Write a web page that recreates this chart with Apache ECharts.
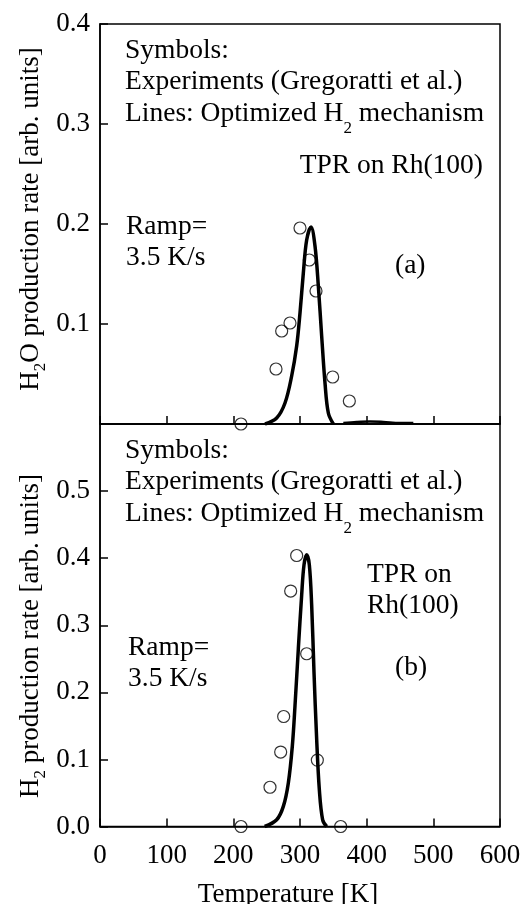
<!DOCTYPE html>
<html>
<head>
<meta charset="utf-8">
<script src="https://cdn.jsdelivr.net/npm/echarts@6/dist/echarts.min.js"></script>
<style>
html,body{margin:0;padding:0;background:#fff;}
#chart{width:524px;height:904px;}
</style>
</head>
<body>
<div id="chart"></div>
<script>
// ---- Data ----
const xTicks = [0, 100, 200, 300, 400, 500, 600];
// Panel (a): H2O production
const expTopT = [211.5, 264, 272.5, 285, 300, 314, 324, 349, 374];
const expTopY = [0.0, 0.055, 0.093, 0.101, 0.196, 0.164, 0.133, 0.047, 0.023];
const simTopT = [247.5, 265, 277.5, 287.5, 295, 300, 305, 310, 316.5, 322.5, 327.5, 332.5, 337.5, 342.5, 350];
const simTopY = [0.0, 0.006, 0.021, 0.048, 0.078, 0.111, 0.151, 0.184, 0.197, 0.178, 0.138, 0.088, 0.041, 0.011, 0.0];
const tailTopT = [365, 385, 405, 425, 450, 470];
const tailTopY = [0.001, 0.002, 0.0025, 0.002, 0.001, 0.001];
// Panel (b): H2 production
const expBotT = [211.5, 255, 271, 275.5, 286, 295, 310, 326, 361];
const expBotY = [0.0, 0.0585, 0.111, 0.164, 0.351, 0.404, 0.2575, 0.099, 0.0];
const simBotT = [247, 265, 275, 282.5, 288.5, 292.5, 297.5, 302.5, 306, 310, 314, 317.5, 321, 325, 329, 334, 340];
const simBotY = [0.0, 0.01, 0.03, 0.065, 0.12, 0.18, 0.265, 0.345, 0.39, 0.405, 0.39, 0.33, 0.23, 0.13, 0.055, 0.01, 0.0];

const zip = (a, b) => a.map((v, i) => [v, b[i]]);
const FONT = 'Liberation Serif';
const FS = 27;
const AFS = 27.5;

const chart = echarts.init(document.getElementById('chart'), null, {renderer: 'canvas'});

function xAxis(gridIndex, showLabels) {
  return {
    type: 'value', gridIndex, min: 0, max: 600, interval: 100, position: 'bottom',
    axisLine: {show: true, onZero: false, lineStyle: {color: '#000', width: 1.5}},
    axisTick: {show: true, inside: true, length: 8, interval: 0, lineStyle: {color: '#000', width: 1.5}},
    splitLine: {show: false},
    axisLabel: {show: showLabels, color: '#000', fontFamily: FONT, fontSize: FS, margin: 16}
  };
}
function yAxis(gridIndex, max, hideMin, hideAbove) {
  return {
    type: 'value', gridIndex, min: 0, max, interval: 0.1, position: 'left',
    axisLine: {show: true, onZero: false, lineStyle: {color: '#000', width: 1.5}},
    axisTick: {show: true, inside: true, length: 8, interval: 0, lineStyle: {color: '#000', width: 1.5}},
    splitLine: {show: false},
    axisLabel: {
      color: '#000', fontFamily: FONT, fontSize: FS, margin: 10,
      showMinLabel: !hideMin, showMaxLabel: !hideAbove,
      formatter: v => (hideMin && v === 0) || (hideAbove && v > 0.55) ? '' : v.toFixed(1)
    }
  };
}

function txt(x, y, text, opts) {
  opts = opts || {};
  const fs = opts.fs || AFS;
  return {
    type: 'text', x, y, z: 100, rotation: opts.rotation || 0,
    style: {
      text, fill: '#000', font: fs + 'px "' + FONT + '"',
      fontFamily: FONT, fontSize: fs, lineHeight: opts.lh || 31.5,
      align: opts.align || 'left', verticalAlign: opts.va || 'top',
      textAlign: opts.align || 'left', textVerticalAlign: opts.va || 'top',
      rich: {sub: {fontSize: 17, fontFamily: FONT, fill: '#000', verticalAlign: 'top', lineHeight: 10,
                   padding: [opts.subPad || 22, 0, 0, 0]}}
    }
  };
}

const option = {
  backgroundColor: '#fff',
  animation: false,
  grid: [
    {left: 100, top: 24, width: 400, height: 400, show: true, borderColor: '#000', borderWidth: 1.5, backgroundColor: 'transparent', z: 0},
    {left: 100, top: 424, width: 400, height: 402.5, show: true, borderColor: '#000', borderWidth: 1.5, backgroundColor: 'transparent', z: 0}
  ],
  xAxis: [xAxis(0, false), xAxis(1, true)],
  yAxis: [yAxis(0, 0.4, true, false), yAxis(1, 0.6, false, true)],
  series: [
    {type: 'line', xAxisIndex: 0, yAxisIndex: 0, data: zip(simTopT, simTopY), showSymbol: false, smooth: 0.35,
     lineStyle: {color: '#000', width: 3.5}, z: 3},
    {type: 'line', xAxisIndex: 0, yAxisIndex: 0, data: zip(tailTopT, tailTopY), showSymbol: false, smooth: 0.35,
     lineStyle: {color: '#000', width: 2.5}, z: 3},
    {type: 'scatter', xAxisIndex: 0, yAxisIndex: 0, data: zip(expTopT, expTopY), symbol: 'circle', symbolSize: 12,
     clip: false, itemStyle: {color: 'rgba(255,255,255,0)', borderColor: '#000', borderWidth: 1.2}, z: 4},
    {type: 'line', xAxisIndex: 1, yAxisIndex: 1, data: zip(simBotT, simBotY), showSymbol: false, smooth: 0.35,
     lineStyle: {color: '#000', width: 3.5}, z: 3},
    {type: 'scatter', xAxisIndex: 1, yAxisIndex: 1, data: zip(expBotT, expBotY), symbol: 'circle', symbolSize: 12,
     clip: false, itemStyle: {color: 'rgba(255,255,255,0)', borderColor: '#000', borderWidth: 1.2}, z: 4}
  ],
  graphic: [
    // axis names
    txt(31, 219, 'H{sub|2}O production rate [arb. units]', {fs: FS, align: 'center', va: 'middle', rotation: Math.PI / 2, lh: 30, subPad: 16}),
    txt(31, 636, 'H{sub|2} production rate [arb. units]', {fs: FS, align: 'center', va: 'middle', rotation: Math.PI / 2, lh: 30, subPad: 16}),
    txt(288, 895, 'Temperature [K]', {fs: FS, align: 'center', va: 'middle', lh: 30}),
    // panel (a)
    txt(125, 35, 'Symbols:\nExperiments (Gregoratti et al.)\nLines: Optimized H{sub|2} mechanism'),
    txt(483, 150, 'TPR on Rh(100)', {align: 'right'}),
    txt(126, 211, 'Ramp=\n3.5 K/s'),
    txt(395, 250, '(a)'),
    // panel (b)
    txt(125, 435, 'Symbols:\nExperiments (Gregoratti et al.)\nLines: Optimized H{sub|2} mechanism'),
    txt(367, 559, 'TPR on\nRh(100)'),
    txt(128, 632, 'Ramp=\n3.5 K/s'),
    txt(395, 652, '(b)')
  ]
};
chart.setOption(option);
</script>
</body>
</html>
